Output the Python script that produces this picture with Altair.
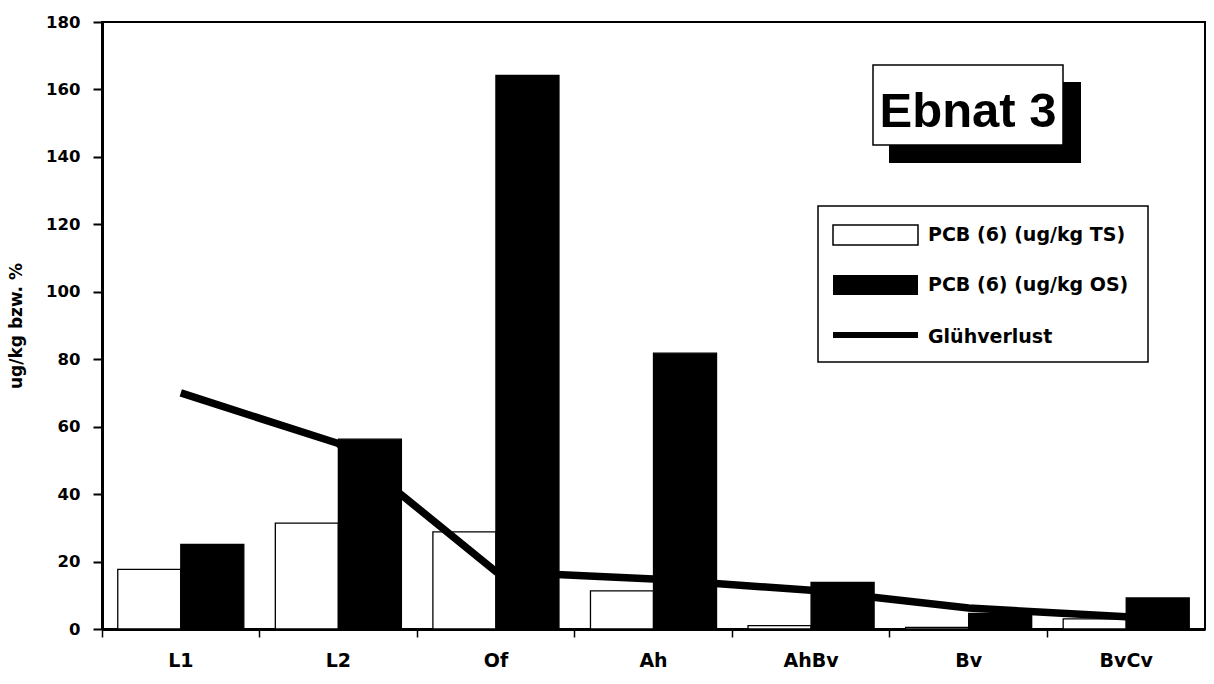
import altair as alt
import pandas as pd

categories = ["L1", "L2", "Of", "Ah", "AhBv", "Bv", "BvCv"]
pcb_ts = [17.7, 31.4, 28.8, 11.3, 1.0, 0.5, 3.0]
pcb_os = [25.1, 56.3, 164.2, 81.8, 13.8, 4.6, 9.2]
gluehverlust = [70.0, 55.0, 17.0, 14.8, 11.5, 6.2, 3.6]

series_names = ["PCB (6) (ug/kg TS)", "PCB (6) (ug/kg OS)", "Glühverlust"]
y_ticks = [0, 20, 40, 60, 80, 100, 120, 140, 160, 180]

bars = pd.DataFrame({
    "cat": categories * 2,
    "series": [series_names[0]] * len(categories) + [series_names[1]] * len(categories),
    "value": pcb_ts + pcb_os,
})
line_df = pd.DataFrame({"cat": categories, "value": gluehverlust})

FONT = "DejaVu Sans"
W, H = 1103, 607

x_enc = alt.X("cat:N", sort=categories, title=None,
              scale=alt.Scale(paddingInner=0, paddingOuter=0),
              axis=alt.Axis(labelAngle=0, bandPosition=0,
                            labelFont=FONT, labelFontWeight="bold", labelFontSize=19,
                            labelColor="black", labelPadding=14,
                            tickColor="black", tickSize=8, tickWidth=1.5,
                            domainColor="black", domainWidth=3))
y_scale = alt.Scale(domain=[0, 180], nice=False)
y_axis = alt.Axis(values=y_ticks, title="ug/kg bzw. %", grid=False,
                  labelFont=FONT, labelFontWeight="bold", labelFontSize=16.5,
                  labelColor="black", labelPadding=13,
                  tickColor="black", tickSize=9, tickWidth=2,
                  domainColor="black", domainWidth=3,
                  titleFont=FONT, titleFontWeight="bold", titleFontSize=17,
                  titleColor="black", titlePadding=20)

bar_layer = alt.Chart(bars).mark_bar(stroke="black", strokeWidth=1.3).encode(
    x=x_enc,
    xOffset=alt.XOffset("series:N", sort=series_names[:2],
                        scale=alt.Scale(paddingInner=0, paddingOuter=0.25)),
    y=alt.Y("value:Q", scale=y_scale, axis=y_axis),
    color=alt.Color("series:N", scale=alt.Scale(domain=series_names[:2],
                                                range=["white", "black"]), legend=None),
)

line_layer = alt.Chart(line_df).mark_line(color="black", strokeWidth=7.5).encode(
    x=alt.X("cat:N", sort=categories),
    y=alt.Y("value:Q", scale=y_scale),
)

one = pd.DataFrame({"k": [0]})

def rect(x1, x2, y1, y2, fill, stroke=None, sw=0):
    kw = dict(fill=fill)
    if stroke:
        kw.update(stroke=stroke, strokeWidth=sw)
    return alt.Chart(one).mark_rect(**kw).encode(
        x=alt.value(x1), x2=alt.value(x2), y=alt.value(y1), y2=alt.value(y2))

def text(t, x, y, size, font, align="left", baseline="middle"):
    return alt.Chart(one).mark_text(font=font, fontSize=size, fontWeight="bold",
                                    align=align, baseline=baseline, color="black").encode(
        x=alt.value(x), y=alt.value(y), text=alt.value(t))

title_shadow = rect(787, 979, 60, 141, "black")
title_box = rect(771, 961, 43, 123, "white", "black", 1.5)
title_text = text("Ebnat 3", 866, 105, 49, "Liberation Sans", align="center", baseline="alphabetic")

legend_box = rect(716, 1046, 184, 340, "white", "black", 1.5)
sym_ts = rect(731, 816, 203, 223, "white", "black", 1.5)
sym_os = rect(731, 816, 253, 273, "black")
sym_line = alt.Chart(one).mark_rule(color="black", strokeWidth=6).encode(
    x=alt.value(731), x2=alt.value(816), y=alt.value(313))
lt1 = text(series_names[0], 826, 213, 19, FONT)
lt2 = text(series_names[1], 826, 263, 19, FONT)
lt3 = text(series_names[2], 826, 315, 19, FONT)

chart = alt.layer(
    bar_layer, line_layer,
    title_shadow, title_box, title_text,
    legend_box, sym_ts, sym_os, sym_line, lt1, lt2, lt3,
).properties(
    width=W, height=H,
    autosize=alt.AutoSizeParams(type="none"),
    padding={"left": 102, "top": 22, "right": 9, "bottom": 55},
    background="white",
).configure_view(stroke="black", strokeWidth=2)

chart.save("out.html", embed_options={"renderer": "svg", "actions": False})
